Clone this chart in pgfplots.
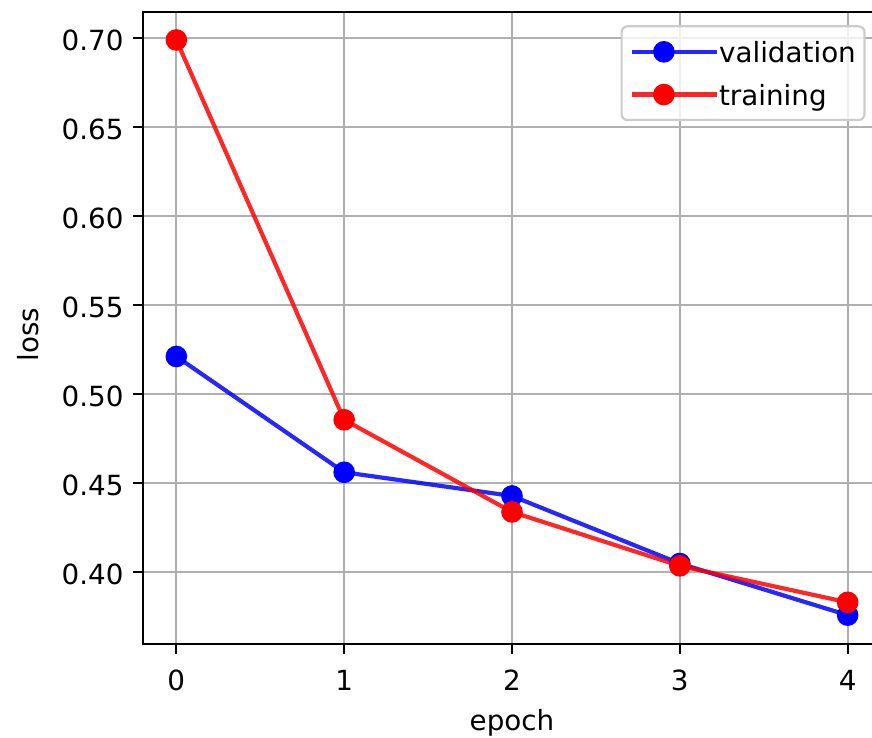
\documentclass[border=0pt]{standalone}
\usepackage{fontspec}
\setmainfont{DejaVu Sans}
\usepackage{pgfplots}
\pgfplotsset{compat=1.18}
\usetikzlibrary{calc}
\definecolor{gridgrey}{HTML}{B0B0B0}
\definecolor{legedge}{HTML}{CCCCCC}

\begin{document}
\begin{tikzpicture}[font=\fontsize{9.26pt}{11pt}\selectfont]
\begin{axis}[
  name=ax,
  scale only axis, width=246.2pt, height=210.8pt,
  xmin=-0.2, xmax=4.2, ymin=0.3595, ymax=0.7149,
  xtick={0,1,2,3,4},
  ytick={0.40,0.45,0.50,0.55,0.60,0.65,0.70},
  /pgf/number format/assume math mode=true,
  axis line style={black, line width=0.74pt},
  tick align=outside, major tick length=3.24pt,
  tick style={black, line width=0.74pt},
  xtick pos=left, ytick pos=left,
  grid=major, major grid style={gridgrey, line width=0.74pt},
  xticklabel style={anchor=north, inner sep=0pt, yshift=-5.17pt},
  yticklabel style={anchor=east, inner sep=0pt, xshift=-3.0pt, yshift=-0.7pt,
    /pgf/number format/fixed, /pgf/number format/fixed zerofill,
    /pgf/number format/precision=2},
  xlabel={epoch}, ylabel={loss},
  every axis x label/.style={at={(axis description cs:0.5,0)}, anchor=base,
    inner sep=0pt, yshift=-28.7pt},
  every axis y label/.style={at={(axis description cs:0,0.5)}, xshift=-38.2pt,
    yshift=-2.3pt, rotate=90, anchor=center, inner sep=0pt},
  legend style={at={(1,1)}, anchor=north east, xshift=-5.2pt, yshift=-4.5pt,
    draw=legedge, line width=0.74pt, rounded corners=2pt, fill=white, fill opacity=0.8,
    text opacity=1, draw opacity=1, inner xsep=2.9pt, inner ysep=5pt, row sep=7.2pt,
    nodes={inner sep=0pt, text depth=0pt}},
  legend cell align=left,
  legend image code/.code={\draw[#1, mark repeat=2, mark phase=2]
    plot coordinates {(0pt,0pt) (10.5pt,0pt) (21pt,0pt)};
    \path (21pt,0pt) -- (28.2pt,0pt);},
]
\addplot[blue, line width=1.39pt, draw opacity=0.85, mark=*,
  mark size=2.9pt, mark options={solid, draw opacity=1, fill opacity=1}] coordinates {
  (0,0.5211) (1,0.4560) (2,0.4427) (3,0.4047) (4,0.3757)};
\addlegendentry{validation\hspace{2.7pt}}
\addplot[red, line width=1.39pt, draw opacity=0.85, mark=*,
  mark size=2.9pt, mark options={solid, draw opacity=1, fill opacity=1}] coordinates {
  (0,0.6990) (1,0.4855) (2,0.4337) (3,0.4034) (4,0.3829)};
\addlegendentry{training}
\end{axis}
\pgfresetboundingbox
\path[use as bounding box] ($(ax.south west)+(-47.6pt,-31.3pt)$)
  rectangle ($(ax.north east)+(-3.07pt,3.9pt)$);
\end{tikzpicture}
\end{document}
